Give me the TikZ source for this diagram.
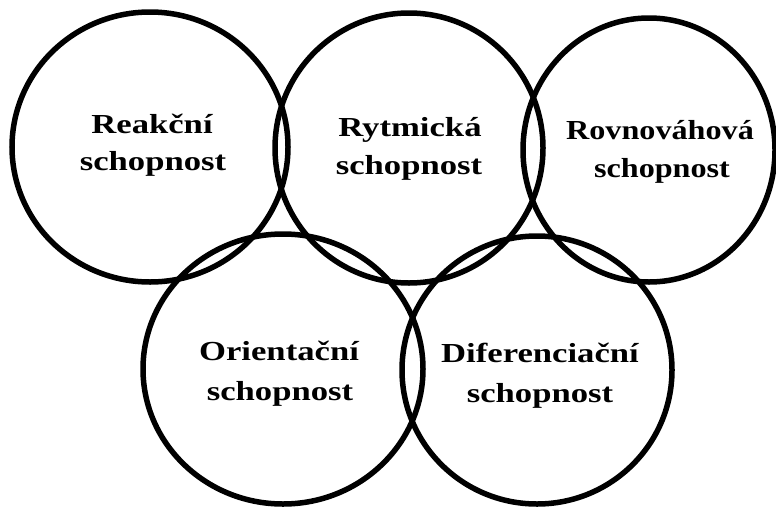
\documentclass[tikz,border=0pt]{standalone}
\usepackage{fontspec}
\newfontfamily\lab{Liberation Serif}[FakeStretch=1.26]
\newfontfamily\labn{Liberation Serif}[FakeStretch=1.17]
\usetikzlibrary{shapes.geometric}
\begin{document}
\begin{tikzpicture}[x=1pt,y=-1pt,
  ring/.style={draw=black,line width=5.5pt,ellipse,inner sep=0pt,outer sep=0pt},
  lbl/.style={anchor=base,inner sep=0pt,font=\lab\bfseries\fontsize{27.5}{37}\selectfont,text=black},
  lbln/.style={anchor=base,inner sep=0pt,font=\labn\bfseries\fontsize{27.5}{37}\selectfont,text=black}]
\useasboundingbox[fill=white] (0,0) rectangle (776,509);
\node[ring,minimum width=276pt,minimum height=270pt] (c1) at (150,147) {};
\node[ring,minimum width=268pt,minimum height=270pt] (c2) at (409,148) {};
\node[ring,minimum width=252pt,minimum height=264pt] (c3) at (649,150) {};
\node[ring,minimum width=280pt,minimum height=270pt] (c4) at (283,369) {};
\node[ring,minimum width=270pt,minimum height=268pt] (c5) at (537,370) {};
\node[lbl] (t1a) at (152,133) {Reakční};
\node[lbl] (t1b) at (153,170) {schopnost};
\node[lbl] (t2a) at (410,136) {Rytmická};
\node[lbl] (t2b) at (409,174) {schopnost};
\node[lbln] (t3a) at (660,139) {Rovnováhová};
\node[lbln] (t3b) at (662,177) {schopnost};
\node[lbl] (t4a) at (279,360) {Orientační};
\node[lbl] (t4b) at (280,400) {schopnost};
\node[lbl] (t5a) at (540,362) {Diferenciační};
\node[lbl] (t5b) at (540,402) {schopnost};
\end{tikzpicture}
\end{document}
